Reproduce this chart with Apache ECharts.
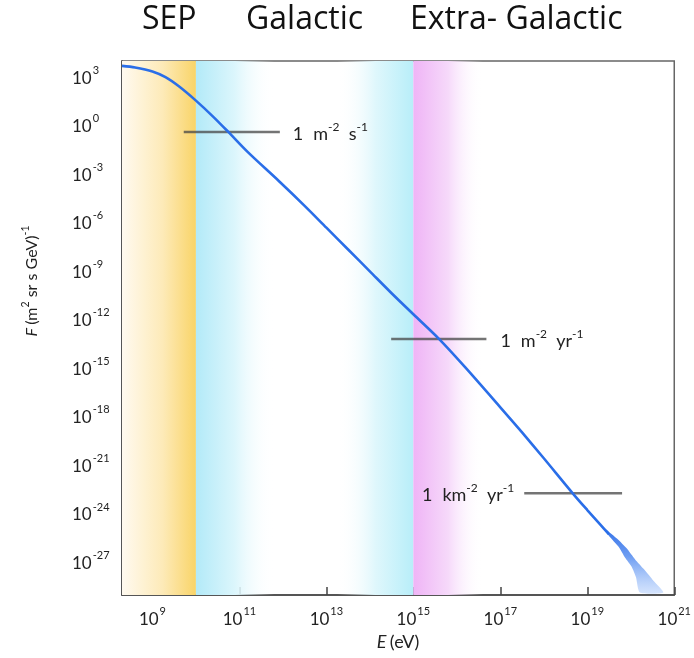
<!DOCTYPE html>
<html>
<head>
<meta charset="utf-8">
<script src="https://cdn.jsdelivr.net/npm/echarts@6/dist/echarts.min.js"></script>
<style>
html,body{margin:0;padding:0;background:#fff;}
#chart{width:694px;height:658px;}
</style>
</head>
<body>
<div id="chart"></div>
<script>
// ---- data (log10 values) ----
const spectrumLogE = [8.30, 8.6, 9.0, 9.3, 9.6, 10.0, 10.4, 10.75, 11.2, 11.9, 12.5, 13.0, 13.5, 14.0, 14.5, 15.0, 15.6, 16.2, 17.0, 17.5, 18.0, 18.66, 19.0, 19.3, 19.5];
const spectrumLogF = [3.60, 3.50, 3.25, 2.90, 2.35, 1.45, 0.45, -0.50, -1.75, -3.50, -5.05, -6.40, -7.75, -9.10, -10.45, -11.75, -13.30, -15.05, -17.50, -19.05, -20.65, -22.80, -23.85, -24.75, -25.35];
// uncertainty band at the highest energies (right/upper edge and left/lower edge)
const bandUpperLogE = [19.3, 19.5, 19.7, 19.9, 20.1, 20.3, 20.5, 20.75];
const bandUpperLogF = [-24.75, -25.20, -25.65, -26.20, -26.90, -27.50, -28.15, -28.95];
const bandLowerLogE = [19.3, 19.5, 19.72, 19.87, 20.02, 20.12, 20.21];
const bandLowerLogF = [-24.75, -25.45, -26.12, -26.80, -27.35, -28.00, -28.95];
// flux reference lines
const fluxLabels = ['1 m-2 s-1', '1 m-2 yr-1', '1 km-2 yr-1'];
const fluxLogF = [-0.49, -13.28, -22.81];
const fluxStartLogE = [9.72, 14.49, 17.55];
const fluxEndLogE = [11.93, 16.68, 19.80];
// shaded energy regions
const regionNames = ['SEP', 'Galactic', 'Extra- Galactic'];
const sepRange = [8.30, 10.0];
const galacticFadeRange = [10.0, 11.8];
const galacticRiseRange = [13.25, 15.0];
const extraRange = [15.0, 16.6];
// axes
const xTicks = [9, 11, 13, 15, 17, 19, 21];
const yTicks = [3, 0, -3, -6, -9, -12, -15, -18, -21, -24, -27];
const xRange = [8.30, 21];
const yRange = [-29.1, 3.9];

const FONT = 'Lato';
const chart = echarts.init(document.getElementById('chart'), null, {renderer: 'canvas'});
const LG = echarts.graphic.LinearGradient;

const powRich = {
  b: {fontSize: 17, fontFamily: FONT, color: '#222', lineHeight: 22, verticalAlign: 'bottom'},
  s: {fontSize: 11, fontFamily: FONT, color: '#222', lineHeight: 22, verticalAlign: 'top', padding: [0, 0, 0, 1]}
};
function powLabel(v) { return '{b|10}{s|' + v + '}'; }

const spectrum = spectrumLogE.map((e, i) => [e, spectrumLogF[i]]);
const bandPoly = bandUpperLogE.map((e, i) => [e, bandUpperLogF[i]])
  .concat(bandLowerLogE.map((e, i) => [e, bandLowerLogF[i]]).reverse());

const labelRich = {
  n: {fontSize: 18, fontFamily: FONT, color: '#222', lineHeight: 22, verticalAlign: 'bottom'},
  u: {fontSize: 18, fontFamily: FONT, color: '#222', lineHeight: 22, verticalAlign: 'bottom'},
  s: {fontSize: 12, fontFamily: FONT, color: '#222', lineHeight: 22, verticalAlign: 'top'}
};
function fluxText(t) {
  const parts = t.split(' ');
  let out = '{n|' + parts[0] + '}   ';
  for (let i = 1; i < parts.length; i++) {
    const m = parts[i].match(/^([a-z]+)(-?\d+)$/);
    out += '{u|' + m[1] + '}{s|' + m[2] + '}' + (i < parts.length - 1 ? '{u|  }' : '');
  }
  return out;
}

const fluxSeries = fluxLogF.map((f, i) => {
  const labelLeft = i === 2;
  const lbl = {show: true, position: labelLeft ? 'left' : 'right', distance: labelLeft ? 10 : (i === 0 ? 13 : 14),
    formatter: fluxText(fluxLabels[i]), rich: labelRich};
  const p0 = {value: [fluxStartLogE[i], f]};
  const p1 = {value: [fluxEndLogE[i], f]};
  if (labelLeft) p0.label = lbl; else p1.label = lbl;
  return {
    type: 'line', data: [p0, p1], symbol: 'circle', symbolSize: 0, showSymbol: true, showAllSymbol: true,
    lineStyle: {color: 'rgba(70,70,70,0.75)', width: 2.5}, itemStyle: {color: 'rgba(0,0,0,0)'},
    label: {show: false}, z: 4, silent: true, animation: false
  };
});

function vband(range, stops) {
  return [{xAxis: range[0], itemStyle: {color: new LG(0, 0, 1, 0, stops)}}, {xAxis: range[1]}];
}

const titleFont = '32px "Open Sans"';
const option = {
  animation: false,
  backgroundColor: '#fff',
  grid: {left: 122, right: 14, top: 61, bottom: 63, show: true, borderColor: '#666', borderWidth: 1.5, backgroundColor: 'transparent'},
  xAxis: {
    type: 'value', min: xRange[0], max: xRange[1],
    axisLine: {show: true, onZero: false, lineStyle: {color: '#444', width: 1.5}},
    axisTick: {show: true, inside: true, length: 8, customValues: xTicks, lineStyle: {color: '#444', width: 1.5}},
    axisLabel: {customValues: xTicks, margin: 11, formatter: powLabel, rich: powRich},
    splitLine: {show: false},
    name: '{i|E} {r|(eV)}', nameLocation: 'middle', nameGap: 37,
    nameTextStyle: {rich: {i: {fontSize: 18, fontStyle: 'italic', fontFamily: FONT, color: '#222'}, r: {fontSize: 18, fontFamily: FONT, color: '#222'}}}
  },
  yAxis: {
    type: 'value', min: yRange[0], max: yRange[1],
    axisLine: {show: true, onZero: false, lineStyle: {color: '#444', width: 1.5}},
    axisTick: {show: true, inside: true, length: 8, customValues: yTicks, lineStyle: {color: '#444', width: 1.5}},
    axisLabel: {customValues: yTicks, margin: 50, align: 'left', formatter: powLabel, rich: powRich},
    splitLine: {show: false}
  },
  graphic: [
    {type: 'text', x: 142, y: 20, style: {text: regionNames[0], font: titleFont, fill: '#111', verticalAlign: 'middle'}},
    {type: 'text', x: 246, y: 20, style: {text: regionNames[1], font: titleFont, fill: '#111', verticalAlign: 'middle'}},
    {type: 'text', x: 410, y: 20, style: {text: regionNames[2], font: titleFont, fill: '#111', verticalAlign: 'middle'}},
    {type: 'text', x: 30, y: 281, rotation: Math.PI / 2, style: {
      text: '{i|F} {r|(m}{s|2}{r| sr s GeV)}{s|-1}', align: 'center', verticalAlign: 'middle',
      rich: {
        i: {fontSize: 16, fontStyle: 'italic', fontFamily: FONT, fill: '#222', lineHeight: 20, verticalAlign: 'bottom'},
        r: {fontSize: 16, fontFamily: FONT, fill: '#222', lineHeight: 20, verticalAlign: 'bottom'},
        s: {fontSize: 10.5, fontFamily: FONT, fill: '#222', lineHeight: 20, verticalAlign: 'top'}
      }}}
  ],
  series: [
    {
      type: 'line', data: [], silent: true,
      markArea: {silent: true, label: {show: false}, data: [
        vband(sepRange, [{offset: 0, color: '#fffaf0'}, {offset: 0.55, color: '#fdeab8'}, {offset: 1, color: '#f9d468'}]),
        vband(galacticFadeRange, [{offset: 0, color: '#b3eaf8'}, {offset: 0.5, color: '#dcf6fc'}, {offset: 1, color: 'rgba(255,255,255,0)'}]),
        vband(galacticRiseRange, [{offset: 0, color: 'rgba(255,255,255,0)'}, {offset: 0.5, color: '#dff7fc'}, {offset: 1, color: '#b8eef9'}]),
        vband(extraRange, [{offset: 0, color: '#efb4f6'}, {offset: 0.5, color: '#f6d9fa'}, {offset: 1, color: 'rgba(255,255,255,0)'}])
      ]}, z: 1
    },
    {
      type: 'custom', data: [[bandPoly[0][0], bandPoly[0][1]]], clip: true, z: 3, silent: true,
      renderItem: function (params, api) {
        if (params.dataIndex !== 0) return null;
        const pts = bandPoly.map(p => api.coord(p));
        return {type: 'polygon', shape: {points: pts, smooth: 0.2}, style: {
          fill: new LG(0, 0, 0, 1, [{offset: 0, color: 'rgba(40,105,230,0.98)'}, {offset: 0.45, color: 'rgba(70,130,238,0.8)'}, {offset: 1, color: 'rgba(150,188,250,0.4)'}])
        }};
      }
    },
    {
      type: 'line', data: spectrum, smooth: 0.3, symbol: 'none', clip: true, z: 5,
      lineStyle: {color: '#2a6ee8', width: 2.6}
    }
  ].concat(fluxSeries)
};
chart.setOption(option);
</script>
</body>
</html>
